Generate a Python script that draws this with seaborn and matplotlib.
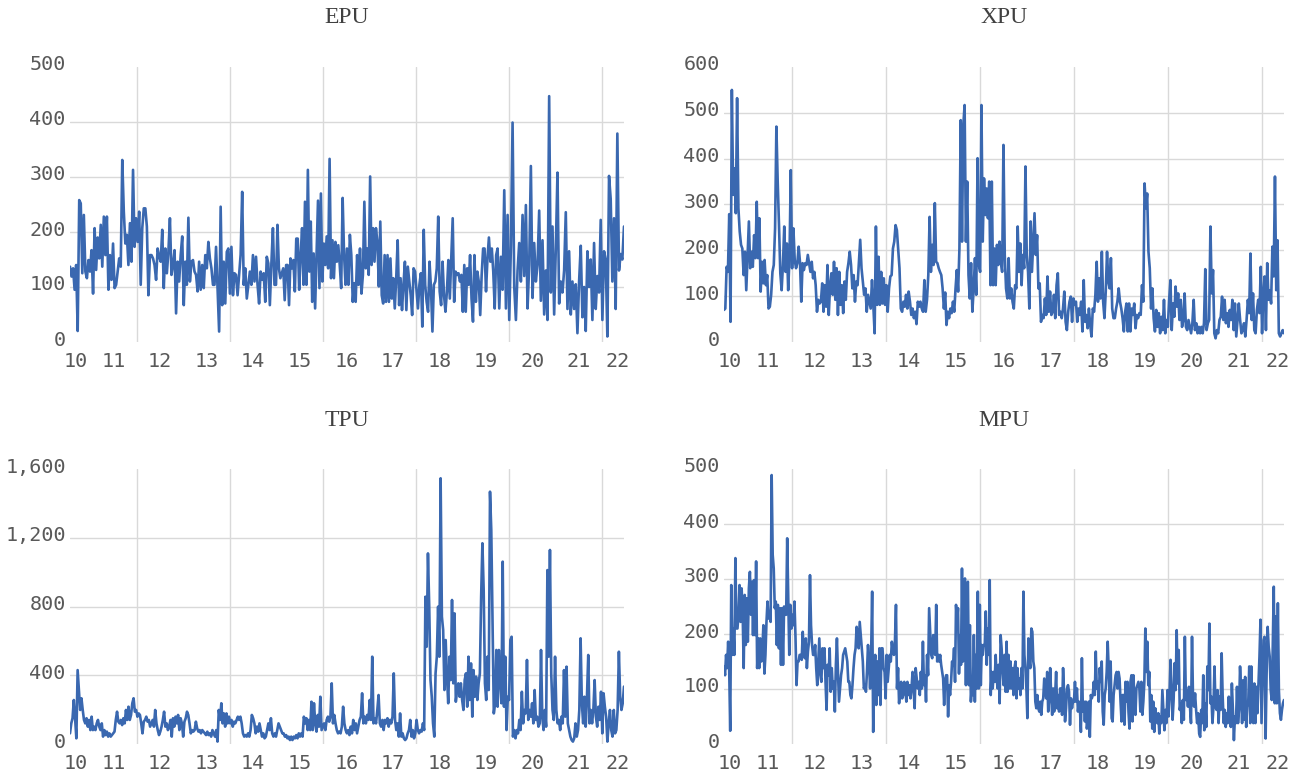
import numpy as np
import pandas as pd
import matplotlib
matplotlib.use("Agg")
import matplotlib.pyplot as plt
from matplotlib.transforms import ScaledTranslation
import seaborn as sns

# ---------------- data (roughly fortnightly) ----------------
# Each index is split into three reading periods: mid-2010..2014, 2015..autumn 2019, autumn 2019..mid-2022
period_bounds = [2010.565, 2014.99, 2019.75, 2022.465]

epu_p1 = [137,119,134,95,140,20,258,252,125,231,
          128,116,149,128,167,88,207,131,190,152,
          213,137,228,158,228,95,158,113,179,98,
          104,128,152,137,331,237,179,195,140,216,
          146,313,173,225,182,237,104,207,243,243,
          210,85,158,158,152,140,113,170,155,146,
          204,98,170,125,164,225,122,140,167,52,
          146,110,158,192,67,146,104,226,110,146,
          149,128,122,92,146,95,140,98,158,134,
          182,152,134,104,104,173,98,19,246,67,
          146,70,164,170,88,173,85,125,122,85,
          122,159,273,104,134,79,104,128,104,158,
          110,155,104,70,128,113,125,73,155,143,
          67,143,207,104]
epu_p2 = [104,213,134,116,125,134,76,140,140,67,
          152,134,149,92,188,188,95,158,207,104,
          255,104,313,128,219,73,161,61,161,257,
          98,270,110,179,140,192,134,333,116,185,
          116,182,146,176,140,98,262,158,104,170,
          104,195,158,73,107,73,158,104,170,88,
          122,255,134,170,122,301,140,207,146,207,
          182,101,219,85,70,158,73,158,73,152,
          79,116,61,116,185,67,116,58,104,146,
          58,137,110,85,49,134,128,95,61,104,
          125,28,204,104,73,55,146,98,19,104,
          110,134,228,92,67,146,85,55,92,149,
          79,152,225,73,128,122,125,110,122,55,
          140,55,134,104,158,79,37,158,73,128,
          110,49,122,170,170,92,152,190,146,170,
          128,61,158]
epu_p3 = [170,61,155,95,276,61,231,40,175,399,
          100,40,130,180,110,231,120,249,61,140,
          320,80,180,110,140,239,75,185,50,130,
          40,447,90,210,50,170,308,70,110,90,
          130,236,60,165,50,110,60,105,16,110,
          175,45,100,20,165,100,150,40,180,60,
          120,90,222,40,165,150,10,302,260,110,
          225,60,379,130,160,150,210]

xpu_p1 = [70,73,164,153,279,44,550,321,379,281,
          532,292,241,212,204,146,197,113,186,263,
          161,197,164,233,183,306,183,270,110,175,
          128,179,124,146,73,77,103,153,168,248,
          470,350,255,150,113,168,252,153,215,113,
          183,375,161,248,179,161,172,208,175,88,
          172,157,172,168,190,172,153,175,139,153,
          124,66,92,84,88,128,66,124,77,168,
          59,124,150,103,175,92,161,59,153,81,
          124,63,132,92,153,172,197,168,117,146,
          88,132,124,172,223,161,132,103,117,66,
          103,88,73,135,81,19,252,81,186,81,
          153,84,139,81,124,66,117,143,146,204,
          219,255,244,204,161,73,66,88,77,103,
          73,110,88,59,73,52,66,39,88,77,
          88,73,66,135,66,92,146,273,153]
xpu_p2 = [212,168,303,175,172,161,153,146,117,73,
          108,37,66,52,73,63,88,66,117,157,
          110,204,484,219,473,517,219,350,146,95,
          172,66,117,183,103,401,168,153,517,219,
          357,277,335,270,350,124,350,124,204,124,
          212,168,219,175,153,430,190,117,95,183,
          95,117,88,73,124,117,252,153,215,124,
          190,161,383,190,153,73,263,153,219,281,
          190,233,117,128,44,59,52,95,59,143,
          66,110,59,66,103,52,124,150,59,66,
          52,73,110,44,26,66,88,99,44,95,
          81,88,44,73,59,88,23,135,44,59,
          30,73,37,12,73,66,103,175,88,139,
          95,197,88,52,110,197,132,117,183,73,
          52,52,73,88,117,88,73,52,23,66,
          84,23,84,23,73,59,84,30,59,52,
          63,59,124,88,346,292,324,197,161,73,
          117,52,23]
xpu_p3 = [70,33,63,19,55,26,92,19,48,33,
          92,135,26,84,55,121,77,106,48,92,
          33,48,106,33,26,48,33,19,41,92,
          26,41,19,33,19,33,19,41,159,26,
          41,48,252,106,157,19,8,26,19,48,
          55,99,48,92,41,63,33,70,48,92,
          26,84,12,48,84,48,19,26,41,12,
          48,92,63,193,48,106,26,19,70,92,
          63,164,19,106,143,26,172,92,113,84,
          208,143,361,113,222,19,12,19,26,19]

tpu_p1 = [62,120,150,256,150,33,430,314,198,266,
          198,140,120,150,101,140,81,159,81,101,
          81,120,140,101,81,120,43,81,52,72,
          43,62,43,52,62,72,140,188,130,120,
          140,110,150,120,198,140,217,140,169,237,
          266,188,198,159,178,169,120,62,130,140,
          159,130,140,101,120,140,101,198,120,81,
          52,72,101,140,188,101,120,81,101,140,
          43,150,101,159,120,169,81,150,120,43,
          130,150,188,169,120,62,81,72,81,130,
          91,72,81,62,81,72,62,52,72,52,
          62,43,81,62,43,81,14,198,140,237,
          120,178,101,178,120,159,120,140,101,130,
          120,140,159,140,159,120,62,43,52,43,
          62,43,81,169,150,120,62,101,72,120,
          81,43,62,33,43,81,120,81,150,62,
          43,62]
tpu_p2 = [43,81,120,101,81,62,62,43,
          52,33,43,23,43,23,43,33,52,33,
          62,43,62,43,159,120,150,81,140,81,
          246,81,237,120,72,169,101,275,81,101,
          120,81,140,159,130,159,353,120,169,120,
          81,62,72,62,101,217,120,81,62,81,
          52,101,62,140,81,120,62,101,140,159,
          295,120,159,120,169,140,256,140,508,120,
          150,120,198,285,120,101,140,81,140,120,
          150,101,140,120,159,411,140,81,120,43,
          178,43,62,33,23,33,62,81,140,43,
          81,33,62,140,81,62,81,72,120,81,
          857,566,1109,799,372,275,120,43,411,508,
          799,508,1546,741,663,314,605,392,237,508,
          372,838,353,760,246,314,353,275,353,256,
          198,372,411,217,508,256,469,159,430,275,
          392,256,353,411,857,1168,896,353,256,508,
          314,1468,1245,702,178,237,547]
tpu_p3 = [217,547,372,
          237,1061,217,508,81,275,256,605,624,43,
          81,33,81,62,140,81,304,120,198,178,
          489,140,198,159,237,120,314,140,159,101,
          120,547,159,81,198,101,1012,508,1129,411,
          198,140,508,198,120,140,81,159,120,430,
          159,450,120,81,43,23,14,33,120,43,
          81,198,615,237,120,275,101,275,518,120,
          198,120,198,372,159,101,217,140,304,62,
          295,217,159,14,120,198,81,43,198,62,
          81,198,537,275,198,237,334]

mpu_p1 = [141,125,162,138,186,138,24,289,162,210,
          162,338,210,210,235,289,222,283,241,138,
          271,180,265,186,283,313,235,295,198,298,
          198,332,138,192,138,192,150,168,216,128,
          162,222,259,228,241,222,489,344,319,247,
          259,180,253,174,247,144,247,144,250,235,
          235,374,271,162,253,210,235,216,259,195,
          107,150,150,162,162,153,204,168,156,192,
          138,168,186,307,216,180,162,162,180,138,
          107,150,192,125,113,174,138,174,113,62,
          144,125,174,95,138,101,113,59,144,192,
          131,77,101,125,138,162,168,174,162,150,
          113,113,89,83,107,138,162,174,213,198,
          174,222,198,174,150,101,107,95,131,180,
          150,101,162,277,22,138,162,71,150,89,
          174,71,174,174,138,131,83,162,113,138,
          162,150,186,168,162,186,253,101,138,74,
          101,113,83,89,113,101,77,113,89,107,
          83,101,131,101,65,138,119,101,113,89,
          131,101,186,107,125,77,162,125,247,204,
          162]
mpu_p2 = [156,198,186,162,253,150,162,150,162,144,
          131,119,71,113,125,125,50,107,89,113,
          150,144,174,113,253,222,247,128,198,144,
          319,150,271,301,107,289,295,107,216,77,
          107,89,198,77,162,101,277,101,253,107,
          180,162,180,180,241,144,210,162,298,89,
          131,101,131,113,162,119,101,144,74,198,
          174,131,107,162,95,186,95,162,101,150,
          101,138,89,138,150,83,138,101,119,89,
          138,101,277,162,138,101,47,192,150,138,
          210,204,150,138,77,65,89,65,59,77,
          53,77,83,119,101,83,131,59,83,138,
          89,53,101,59,89,131,65,89,59,101,
          101,53,138,95,41,65,101,107,95,35,
          83,65,77,77,113,77,101,59,77,65,
          22,156,59,77,41,77,28,41,77,13,
          89,83,89,113,89,168,101,113,77,138,
          113,150,59,35,89,101,131,186,138,77,
          150,47,41,89,107,125,131,101,131,119,
          77,41,89,89,35,113,77,113,59,28,
          113,125,41,125,77,53,101,107,113,101,
          59,113,53,77,113,210,131,186,107,131,
          41,89,28,77,22,65]
mpu_p3 = [44,38,56,19,50,38,98,62,25,62,
          38,98,50,92,153,98,44,80,147,98,
          207,110,171,62,74,38,80,44,195,80,
          98,68,104,68,38,195,80,68,92,62,
          38,56,19,13,62,38,125,25,74,31,
          141,98,219,74,86,38,68,141,68,62,
          98,38,86,62,165,86,38,62,31,56,
          38,86,44,31,110,62,7,50,38,104,
          38,62,141,98,38,116,44,122,31,68,
          74,141,38,141,68,38,110,38,104,56,
          110,159,226,38,110,189,195,10,128,213,
          177,159,98,80,177,286,74,232,74,256,
          98,56,44,62,74,80]

titles = ["EPU", "XPU", "TPU", "MPU"]
y_max = [500, 600, 1600, 500]
y_step = [100, 100, 400, 100]
year_labels = ["10", "11", "12", "13", "14", "15", "16", "17", "18", "19", "20", "21", "22"]
series = [(epu_p1, epu_p2, epu_p3), (xpu_p1, xpu_p2, xpu_p3),
          (tpu_p1, tpu_p2, tpu_p3), (mpu_p1, mpu_p2, mpu_p3)]


def build_frame(parts):
    times, values = [], []
    for k, part in enumerate(parts):
        a, b = period_bounds[k], period_bounds[k + 1]
        n = len(part)
        times.append(a + (b - a) * np.arange(n) / (n - 1 if k == len(parts) - 1 else n))
        values.append(np.asarray(part, dtype=float))
    return pd.DataFrame({"year": np.concatenate(times), "value": np.concatenate(values)})


# ---------------- styling ----------------
sns.set_theme(style="white")
plt.rcParams["font.family"] = ["DejaVu Sans Mono", "DejaVu Sans"]

LINE = "#3a68b0"
GRID = "#d9d9d9"
TXT = "#595959"

W, H = 1304, 780
fig = plt.figure(figsize=(W / 100, H / 100), dpi=100)

# axes rectangles in pixels: (left, top, right, bottom)
rects = [(70, 67, 624, 342), (724, 67, 1284, 342),
         (70, 469, 624, 744), (724, 469, 1284, 744)]
title_y = [18, 18, 420, 420]

label_pos = [2010.68] + [y + 0.5 for y in range(2011, 2022)] + [2022.32]
t_start, t_end = period_bounds[0], period_bounds[-1]

for parts, title, ymax, ystep, r, ty in zip(series, titles, y_max, y_step, rects, title_y):
    l, t, rr, b = r
    ax = fig.add_axes([l / W, 1 - b / H, (rr - l) / W, (b - t) / H])
    df = build_frame(parts)
    sns.lineplot(data=df, x="year", y="value", ax=ax, color=LINE, linewidth=1.9, zorder=3)

    ax.set_xlim(t_start, t_end)
    ax.set_ylim(0, ymax)
    ax.set_xlabel("")
    ax.set_ylabel("")
    for s in ax.spines.values():
        s.set_visible(False)

    # horizontal gridlines (interior only)
    yt = np.arange(0, ymax + 1, ystep)
    for v in yt[1:-1]:
        ax.axhline(v, color=GRID, lw=1.0, zorder=1)
    # vertical gridlines every two years
    for yr in range(2012, 2023, 2):
        ax.axvline(yr, color=GRID, lw=1.0, zorder=1)

    ax.set_yticks(yt)
    ax.set_yticklabels([f"{v:,}" for v in yt])
    ax.tick_params(axis="y", length=0, pad=3, labelsize=14.5, labelcolor=TXT)
    for lab in ax.get_yticklabels():
        lab.set_transform(lab.get_transform() + ScaledTranslation(0, 4 / 100, fig.dpi_scale_trans))

    ax.set_xticks(list(range(2011, 2023)))
    ax.set_xticklabels([])
    ax.tick_params(axis="x", which="major", length=6, width=1, color="#bfbfbf", direction="out")
    ax.set_xticks(label_pos, minor=True)
    ax.set_xticklabels(year_labels, minor=True)
    ax.tick_params(axis="x", which="minor", length=0, pad=7, labelsize=14.5, labelcolor=TXT)
    ax.grid(False)

    ax.text(0.5, 1 + (t - ty) / (b - t), title,
            transform=ax.transAxes, ha="center", va="center",
            fontsize=17, color="#404040", family=["Liberation Serif", "DejaVu Serif"])

fig.savefig("out.png", dpi=100)
